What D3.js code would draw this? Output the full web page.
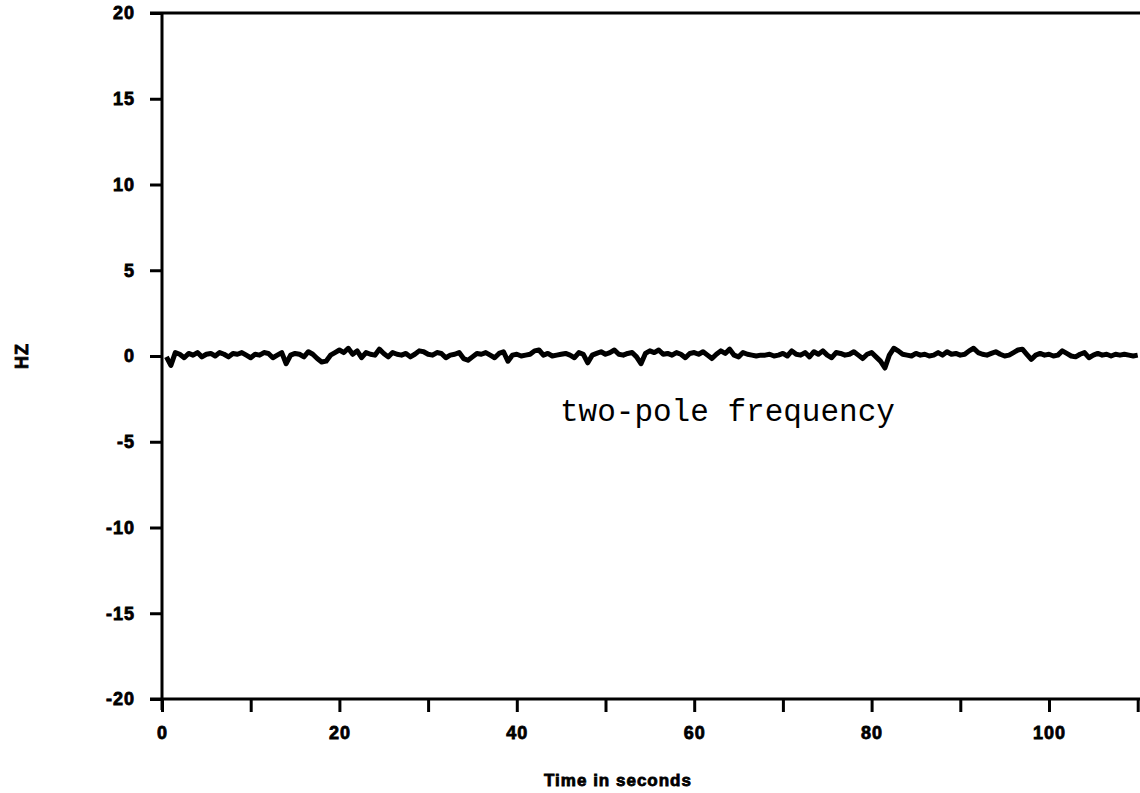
<!DOCTYPE html>
<html>
<head>
<meta charset="utf-8">
<script src="https://cdn.jsdelivr.net/npm/d3@7"></script>
<style>
  html, body { margin: 0; padding: 0; background: #fff; }
  svg { display: block; }
</style>
</head>
<body>
<div id="chart"></div>
<script>
// sampling step of the trace, seconds
const step = 0.5;

// two-pole frequency (Hz), one value every 0.5 s starting at t = 0.5
const freq = [
  -0.05, -0.55, 0.2, 0.1, -0.1, 0.15, 0.05, 0.2, -0.05, 0.1, 0.15, 0.0, 0.2, 0.1, -0.05, 0.15, 0.1, 0.2, 0.05, -0.1,
  0.1, 0.05, 0.2, 0.15, -0.1, 0.05, 0.2, -0.45, 0.05, 0.15, 0.1, -0.05, 0.25, 0.1, -0.15, -0.35, -0.3, 0.05, 0.2, 0.35,
  0.2, 0.45, 0.1, 0.3, -0.1, 0.2, 0.1, 0.05, 0.4, 0.15, -0.05, 0.2, 0.1, 0.05, 0.15, -0.05, 0.1, 0.3, 0.25, 0.1,
  0.05, 0.2, 0.15, -0.1, 0.05, 0.1, 0.2, -0.15, -0.25, -0.05, 0.15, 0.1, 0.2, 0.05, -0.1, 0.15, 0.25, -0.3, 0.05, 0.1,
  0.0, 0.05, 0.1, 0.3, 0.35, 0.05, 0.15, 0.0, 0.05, 0.1, 0.15, 0.05, -0.1, 0.2, 0.1, -0.4, 0.05, 0.15, 0.25, 0.1,
  0.2, 0.35, 0.1, 0.05, 0.15, 0.2, -0.05, -0.45, 0.15, 0.3, 0.2, 0.35, 0.1, 0.15, 0.05, 0.2, 0.1, -0.1, 0.15, 0.2,
  0.1, 0.25, 0.05, -0.15, 0.1, 0.3, 0.15, 0.4, 0.05, -0.05, 0.2, 0.1, 0.05, 0.0, 0.05, 0.05, 0.1, 0.0, 0.05, 0.15,
  0.0, 0.3, 0.1, 0.05, 0.2, -0.05, 0.25, 0.1, 0.3, 0.05, -0.1, 0.2, 0.15, 0.05, 0.1, 0.25, 0.05, -0.15, 0.1, 0.2,
  -0.05, -0.3, -0.7, 0.05, 0.45, 0.3, 0.1, 0.05, 0.0, 0.15, 0.05, 0.1, 0.0, 0.05, 0.2, 0.05, 0.25, 0.1, 0.15, 0.05,
  0.1, 0.3, 0.45, 0.2, 0.1, 0.05, 0.15, 0.25, 0.1, 0.0, 0.05, 0.2, 0.35, 0.4, 0.1, -0.2, 0.05, 0.15, 0.05, 0.1,
  0.0, 0.05, 0.3, 0.15, 0.0, -0.05, 0.1, 0.2, -0.1, 0.05, 0.15, 0.05, 0.1, 0.0, 0.1, 0.05, 0.1, 0.05, 0.0, 0.05
];

const xTicks = [0, 10, 20, 30, 40, 50, 60, 70, 80, 90, 100, 110, 120];
const xLabels = [0, 20, 40, 60, 80, 100];
const yTicks = [-20, -15, -10, -5, 0, 5, 10, 15, 20];

const width = 1140, height = 793;
const x0 = 162, y0 = 699, yTop = 13;

const svg = d3.select("#chart").append("svg")
    .attr("width", width)
    .attr("height", height);

svg.append("rect").attr("width", width).attr("height", height).attr("fill", "#fff");

const x = d3.scaleLinear().domain([0, 120]).range([x0, x0 + 120 * 8.87]);
const y = d3.scaleLinear().domain([-20, 20]).range([y0, yTop]);

const boldFont = "'Liberation Sans', Arial, sans-serif";

// heavy plotter-style lettering
function heavy(sel, size) {
    sel.attr("fill", "#000")
        .attr("stroke", "#000")
        .attr("stroke-width", 0.8)
        .style("font-family", boldFont)
        .style("font-weight", "bold")
        .style("font-size", size + "px")
        .style("letter-spacing", "1px");
}

// y axis
const yAxis = svg.append("g")
    .attr("transform", `translate(${x0},0)`)
    .call(d3.axisLeft(y).tickValues(yTicks).tickSize(12).tickPadding(15)
        .tickFormat(d => String(d)));
yAxis.select(".domain").remove();
yAxis.selectAll(".tick line").attr("stroke", "#000").attr("stroke-width", 3);
yAxis.selectAll(".tick text").call(heavy, 18);

// x axis
const xAxis = svg.append("g")
    .attr("transform", `translate(0,${y0})`)
    .call(d3.axisBottom(x).tickValues(xTicks).tickSize(13).tickPadding(14)
        .tickFormat(d => xLabels.includes(d) ? String(d) : ""));
xAxis.select(".domain").remove();
xAxis.selectAll(".tick line").attr("stroke", "#000").attr("stroke-width", 3);
xAxis.selectAll(".tick text").call(heavy, 18);

// frame lines
svg.append("line")
    .attr("x1", x(0)).attr("x2", x(0))
    .attr("y1", y(20) - 1).attr("y2", y(-20) + 11)
    .attr("stroke", "#000").attr("stroke-width", 3);
svg.append("line")
    .attr("x1", x(0) - 12).attr("x2", width)
    .attr("y1", y(-20)).attr("y2", y(-20))
    .attr("stroke", "#000").attr("stroke-width", 3);
svg.append("line")
    .attr("x1", x(0) - 12).attr("x2", width)
    .attr("y1", y(20)).attr("y2", y(20))
    .attr("stroke", "#000").attr("stroke-width", 3);

// the trace
const line = d3.line()
    .x((d, i) => x((i + 1) * step))
    .y(d => y(d));

svg.append("path")
    .datum(freq)
    .attr("fill", "none")
    .attr("stroke", "#000")
    .attr("stroke-width", 5)
    .attr("stroke-linejoin", "round")
    .attr("d", line);

// annotation
svg.append("text")
    .attr("x", 560).attr("y", 421)
    .attr("fill", "#000")
    .style("font-family", "'Courier New', 'Liberation Mono', monospace")
    .style("font-size", "31px")
    .text("two-pole frequency");

// axis titles
svg.append("text")
    .attr("x", 618).attr("y", 786)
    .attr("text-anchor", "middle")
    .call(heavy, 17)
    .text("Time in seconds");

svg.append("text")
    .attr("transform", `translate(28,${y(0)}) rotate(-90)`)
    .attr("text-anchor", "middle")
    .call(heavy, 18)
    .text("HZ");
</script>
</body>
</html>
